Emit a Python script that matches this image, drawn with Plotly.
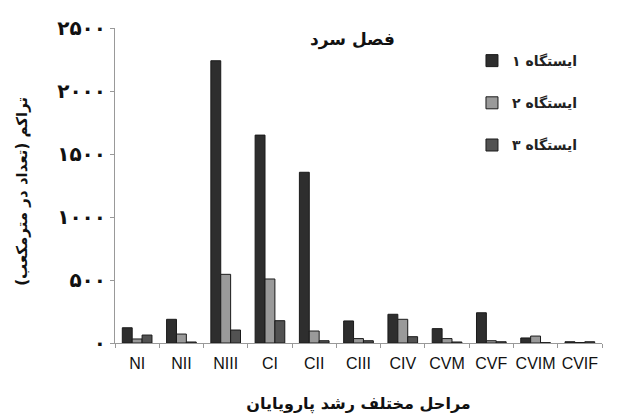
import plotly.graph_objects as go

stages = ["NI", "NII", "NIII", "CI", "CII", "CIII", "CIV", "CVM", "CVF", "CVIM", "CVIF"]
station1 = [121, 188, 2240, 1650, 1355, 175, 228, 114, 240, 40, 10]
station2 = [32, 71, 545, 508, 95, 35, 188, 35, 18, 55, 4]
station3 = [63, 8, 103, 177, 18, 18, 50, 8, 10, 3, 10]
series_names = ["ایستگاه ۱", "ایستگاه ۲", "ایستگاه ۳"]
colors = ["#2e2e2e", "#9a9a9a", "#525252"]
tick_vals = [0, 500, 1000, 1500, 2000, 2500]
tick_text = ["۰", "۵۰۰", "۱۰۰۰", "۱۵۰۰", "۲۰۰۰", "۲۵۰۰"]

fa_font = "DejaVu Sans"

fig = go.Figure()
for i, (name, vals, col) in enumerate(zip(series_names, [station1, station2, station3], colors)):
    fig.add_trace(go.Bar(
        x=stages, y=vals, name=name, legendgroup=f"g{i}",
        marker=dict(color=col, line=dict(color="#1a1a1a", width=1)),
    ))

fig.update_layout(
    width=630, height=417,
    paper_bgcolor="white", plot_bgcolor="white",
    margin=dict(l=107, r=36, t=20, b=82, autoexpand=False),
    barmode="group", bargap=0.33, bargroupgap=0,
    showlegend=True,
    legend=dict(
        x=0.733, y=0.946, xanchor="left", yanchor="top",
        font=dict(family=fa_font, size=14, color="#222", weight="bold"),
        traceorder="grouped", tracegroupgap=21,
        bgcolor="rgba(0,0,0,0)",
    ),
    annotations=[
        dict(
            text="فصل سرد", x=0.487, y=0.962, xref="paper", yref="paper",
            xanchor="center", yanchor="middle", showarrow=False,
            font=dict(family=fa_font, size=17, color="#111", weight="bold"),
        ),
        dict(
            text="تراکم (تعداد در مترمکعب)", x=-0.191, y=0.483,
            xref="paper", yref="paper", textangle=-90,
            xanchor="center", yanchor="middle", showarrow=False,
            font=dict(family=fa_font, size=15, color="#111", weight="bold"),
        ),
    ],
)
fig.update_xaxes(
    showline=True, linecolor="#999", linewidth=1, automargin=False,
    ticks="outside", tickson="boundaries", ticklen=4, tickcolor="#999",
    tickangle=0, ticklabelstandoff=6,
    tickfont=dict(family="Liberation Sans", size=16, color="#111"),
    title=dict(text="مراحل مختلف رشد پارویایان",
               font=dict(family=fa_font, size=16, color="#111", weight="bold"), standoff=26),
    showgrid=False,
)
fig.update_yaxes(
    range=[0, 2500], tickvals=tick_vals, ticktext=tick_text, automargin=False,
    showline=True, linecolor="#999", linewidth=1,
    ticks="outside", ticklen=4, tickcolor="#999",
    tickfont=dict(family=fa_font, size=20, color="#111", weight="bold"),
    showgrid=False, zeroline=False,
)

fig.write_html("out.html")
